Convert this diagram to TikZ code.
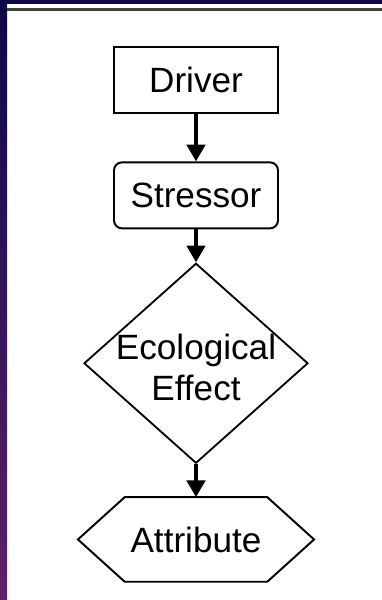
\documentclass[tikz,border=0pt]{standalone}
\usepackage{fontspec}
\setmainfont{Liberation Sans}
\usepackage{xcolor}
\usepackage{tikz}
\usetikzlibrary{arrows.meta, positioning, calc, shapes}

\definecolor{framenavy}{RGB}{12,8,72}
\definecolor{framepurple}{RGB}{92,34,104}

\begin{document}
\begin{tikzpicture}[
		every node/.style={font=\fontsize{25}{29}\selectfont},
		box/.style={draw, line width=1.4pt, minimum width=4.1cm, minimum height=1.65cm, inner sep=0pt},
		flow/.style={line width=2.6pt, -{Triangle[length=0.42cm, width=0.46cm]}}
	]
		% Frame of the slide
		\useasboundingbox (0,0) rectangle (9.55,-15);
		\fill[white] (0,0) rectangle (9.55,-15);
		\shade[top color=framenavy, bottom color=framepurple] (0,0) rectangle (0.18,-15);
		\fill[framenavy] (0,0) rectangle (9.55,-0.1);
		\fill[black!75] (0.18,-0.2) rectangle (9.55,-0.28);
		
		% Boxes
		\node[box] (driver) at (4.9,-2.01) {Driver};
		\node[box, rounded corners=0.2cm, below=1.175cm of driver] (stressor) {Stressor};
		
		% Diamond, text set on top of it
		\node[draw, diamond, line width=1.3pt, minimum width=5.6cm, minimum height=5cm,
			below=0.825cm of stressor] (effect) {};
		\node[align=center] (effecttext) at ($(effect.center)+(0,-0.1)$) {Ecological\\Effect};
		
		% Hexagon: node is the flat top part, sides drawn by hand
		\node[minimum width=3.55cm, minimum height=2.1cm, inner sep=0pt,
			below=0.825cm of effect] (attr) {Attribute};
		\draw[line width=1.4pt] (attr.north west) -- (attr.north east)
			-- ($(attr.east)+(1.17,0)$) -- (attr.south east) -- (attr.south west)
			-- ($(attr.west)+(-1.17,0)$) -- cycle;
		
		% Arrows
		\draw[flow] (driver.south) -- (stressor.north);
		\draw[flow] (stressor.south) -- (effect.north);
		\draw[flow] (effect.south) -- (attr.north);
	\end{tikzpicture}
\end{document}
